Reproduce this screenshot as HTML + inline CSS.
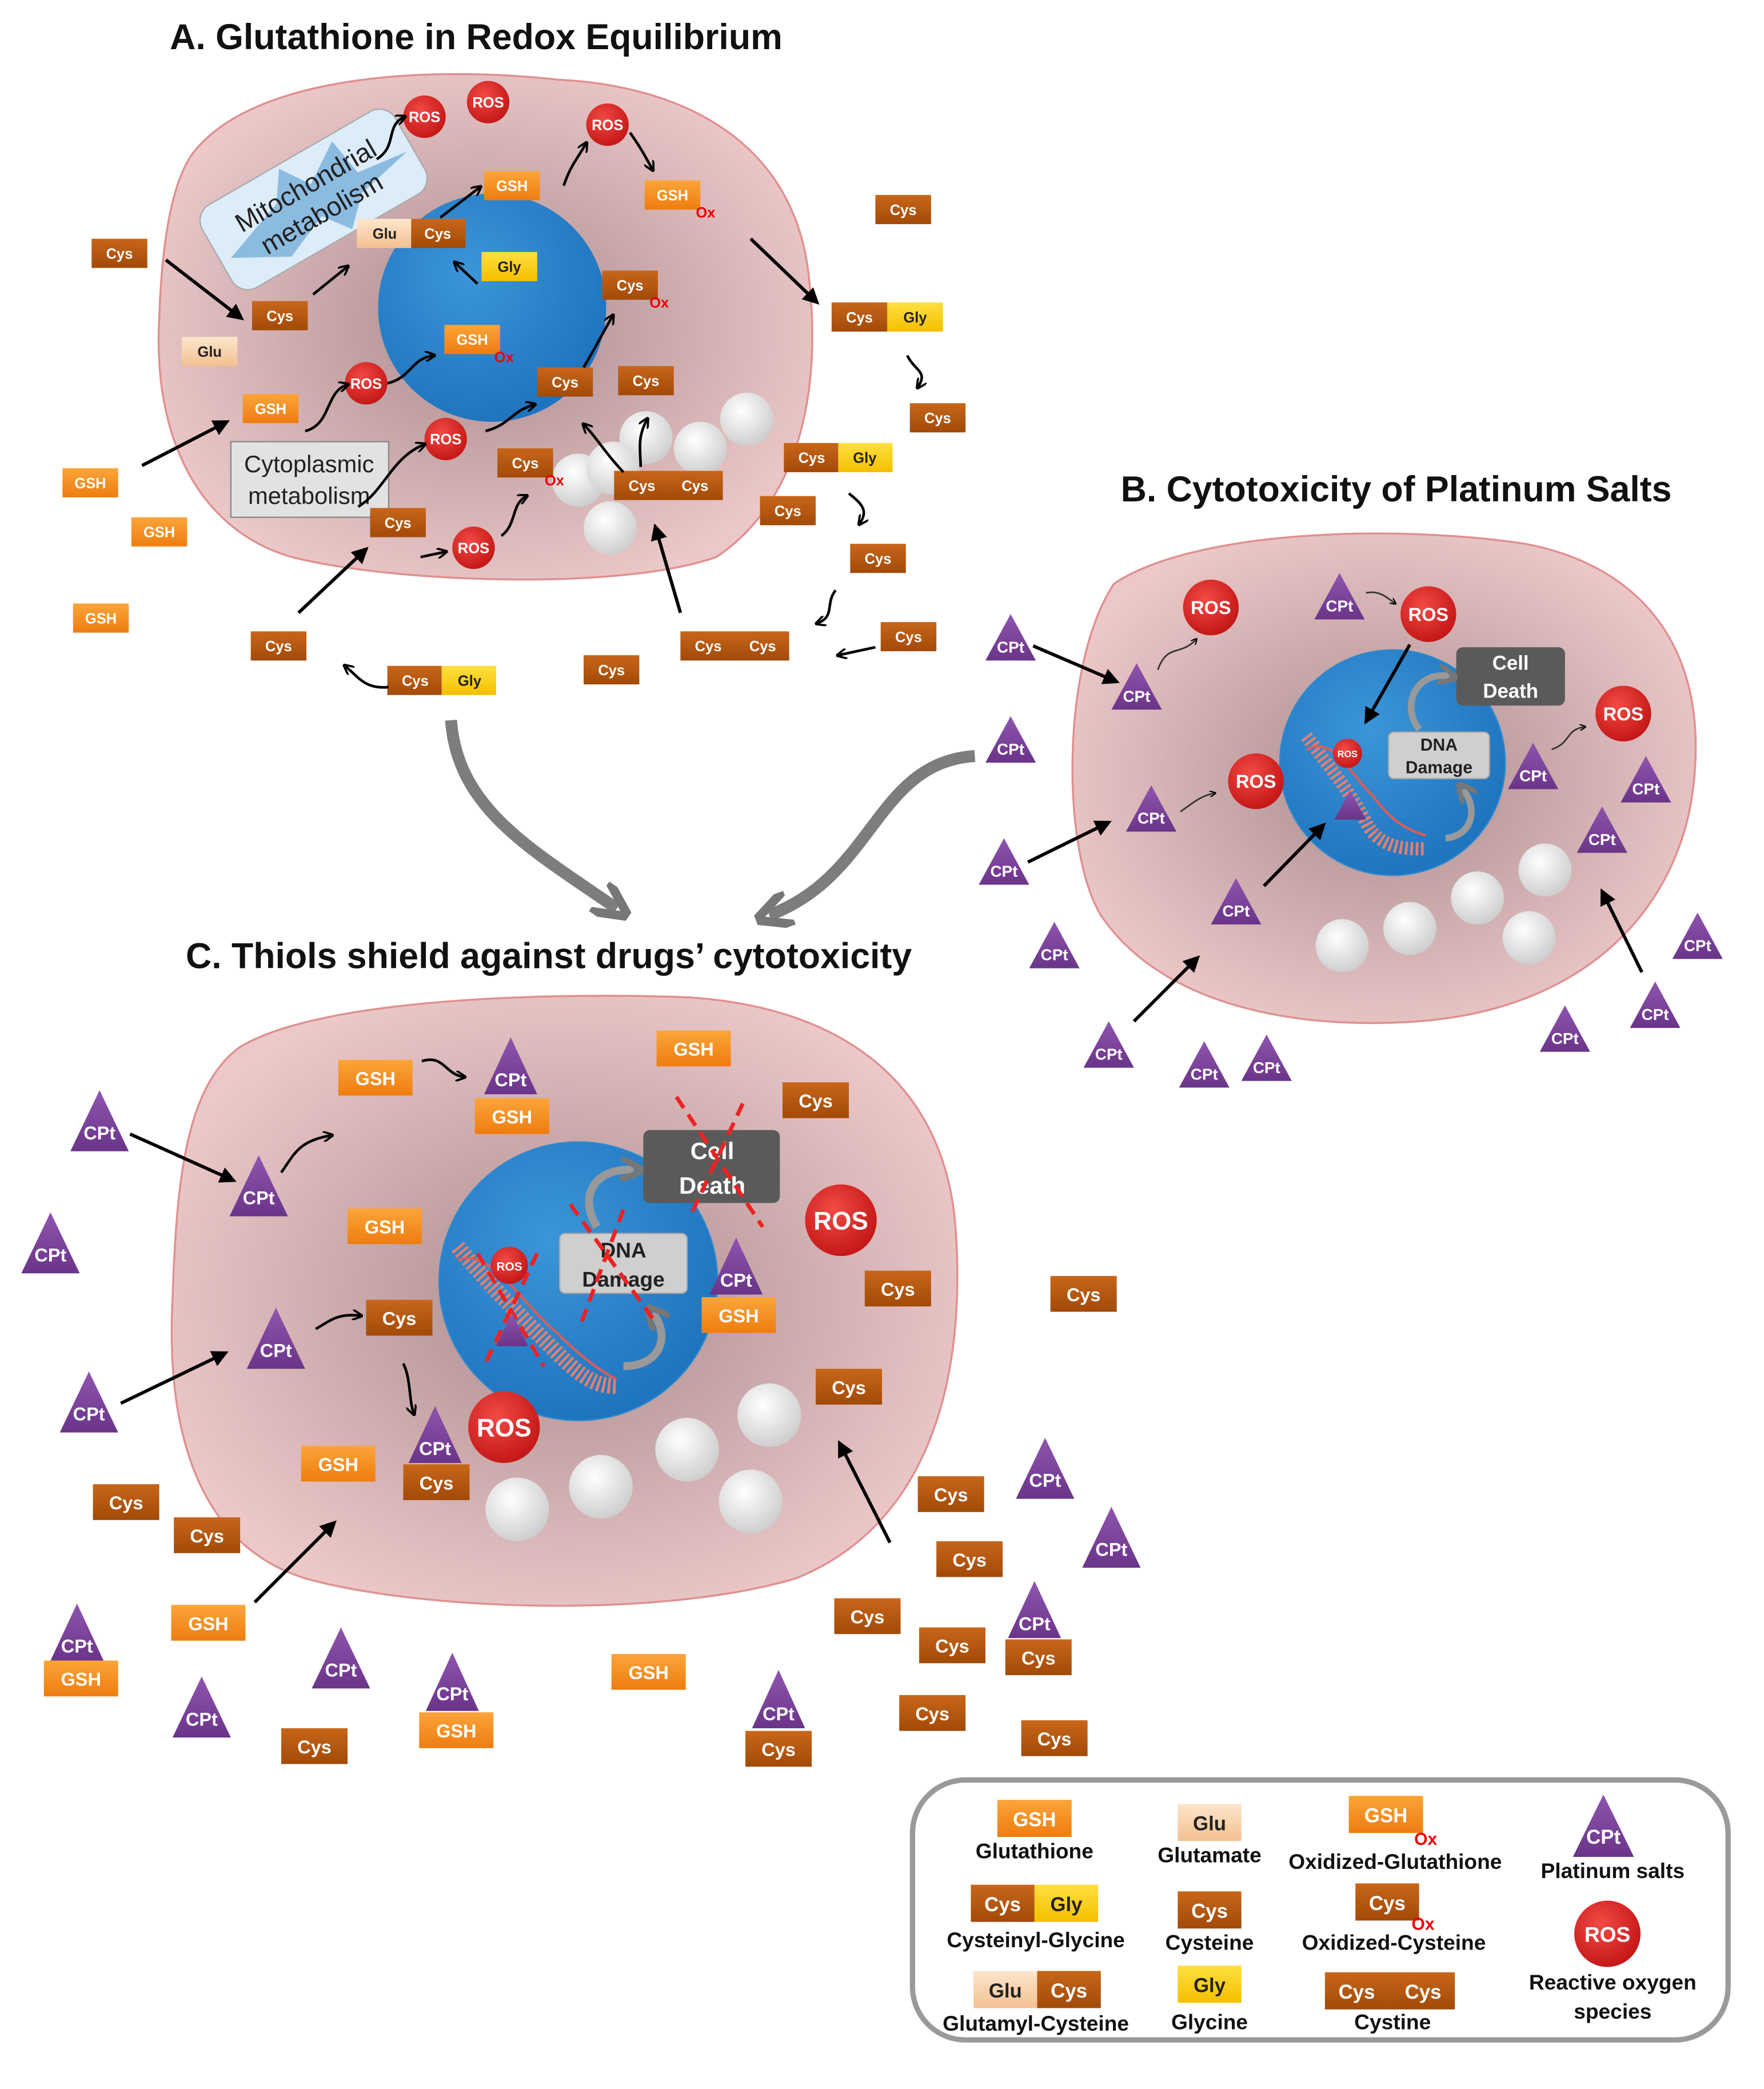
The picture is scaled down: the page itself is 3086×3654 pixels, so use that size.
<!DOCTYPE html>
<html><head><meta charset="utf-8"><style>
html,body{margin:0;padding:0;background:#fff}
svg{display:block}
text{font-family:"Liberation Sans",sans-serif;font-weight:bold;text-anchor:middle}
.w{fill:#fff}.k{fill:#222}
.a{font-size:11px}.c{font-size:14px}.l{font-size:15px}
.ttl{font-size:27px;text-anchor:start;fill:#111}
.lab{font-size:16px;fill:#111}
.ox{fill:#e00;font-size:11px}
.ln{stroke:#000;stroke-width:2.5;fill:none}
.sq{stroke:#000;stroke-width:2;fill:none}
</style></head><body>
<svg width="3086" height="3654" viewBox="0 0 1330 1575" xmlns="http://www.w3.org/2000/svg">
<defs>
<radialGradient id="cell" cx="50%" cy="50%" r="55%"><stop offset="0" stop-color="#a88a8c"/><stop offset="0.6" stop-color="#d2b0b2"/><stop offset="1" stop-color="#ecc8c8"/></radialGradient>
<radialGradient id="nuc" cx="40%" cy="35%" r="70%"><stop offset="0" stop-color="#3c95d8"/><stop offset="1" stop-color="#1d72bd"/></radialGradient>
<radialGradient id="ros" cx="40%" cy="35%" r="65%"><stop offset="0" stop-color="#f24a45"/><stop offset="1" stop-color="#c51818"/></radialGradient>
<radialGradient id="sph" cx="40%" cy="35%" r="65%"><stop offset="0" stop-color="#fff"/><stop offset="1" stop-color="#cfcfcf"/></radialGradient>
<linearGradient id="cys" x1="0" y1="0" x2="0" y2="1"><stop offset="0" stop-color="#c8661a"/><stop offset="1" stop-color="#a24a08"/></linearGradient>
<linearGradient id="gsh" x1="0" y1="0" x2="0" y2="1"><stop offset="0" stop-color="#fba53a"/><stop offset="1" stop-color="#ee7d10"/></linearGradient>
<linearGradient id="gly" x1="0" y1="0" x2="0" y2="1"><stop offset="0" stop-color="#ffe040"/><stop offset="1" stop-color="#f4bf00"/></linearGradient>
<linearGradient id="glu" x1="0" y1="0" x2="0" y2="1"><stop offset="0" stop-color="#fde6cc"/><stop offset="1" stop-color="#f3c091"/></linearGradient>
<linearGradient id="cpt" x1="0" y1="0" x2="0" y2="1"><stop offset="0" stop-color="#8f55b0"/><stop offset="1" stop-color="#6a3488"/></linearGradient>
<marker id="ah" viewBox="0 0 10 10" refX="8" refY="5" markerWidth="5" markerHeight="5" orient="auto"><path d="M0,0L10,5L0,10z" fill="#000"/></marker>
<marker id="as" viewBox="0 0 10 10" refX="8" refY="5" markerWidth="4" markerHeight="4" orient="auto"><path d="M0,0L10,5L0,10" fill="none" stroke="#000" stroke-width="2"/></marker>
<marker id="ag" viewBox="0 0 10 10" refX="6" refY="5" markerWidth="3" markerHeight="3" orient="auto"><path d="M0,0L10,5L0,10" fill="none" stroke="#777" stroke-width="2.5"/></marker>
</defs>

<!-- Titles -->
<text x="128" y="37" class="ttl">A. Glutathione in Redox Equilibrium</text>
<text x="845" y="378" class="ttl">B. Cytotoxicity of Platinum Salts</text>
<text x="140" y="730" class="ttl">C. Thiols shield against drugs’ cytotoxicity</text>

<!-- ============ CELL A ============ -->
<path d="M150,110 C200,55 330,50 420,60 C520,65 600,110 610,210 C620,300 600,380 540,420 C470,445 300,440 220,420 C150,400 115,330 120,240 C122,180 130,130 150,110Z" fill="url(#cell)" stroke="#e09090" stroke-width="1.5"/>
<circle cx="371" cy="232" r="86" fill="url(#nuc)"/>
<g transform="rotate(-30 235 150)"><rect x="152" y="115" width="168" height="72" rx="14" fill="#dcecf8" stroke="#aaa"/>
<path d="M160,158 L210,140 L225,118 L240,140 L270,120 L275,150 L315,155 L270,165 L250,185 L235,165 L200,180Z" fill="#8cbbe0"/>
<text x="236" y="146" style="font-size:20px;font-weight:normal" class="k">Mitochondrial</text>
<text x="236" y="170" style="font-size:20px;font-weight:normal" class="k">metabolism</text></g>
<rect x="174" y="333" width="119" height="57" fill="#e2e2e2" stroke="#888"/>
<text x="233" y="356" style="font-size:18px;font-weight:normal" class="k">Cytoplasmic</text>
<text x="233" y="380" style="font-size:18px;font-weight:normal" class="k">metabolism</text>

<!-- spheres A -->
<g fill="url(#sph)"><circle cx="563" cy="316" r="20"/><circle cx="528" cy="338" r="20"/><circle cx="487" cy="330" r="20"/><circle cx="436" cy="362" r="20"/><circle cx="462" cy="353" r="20"/><circle cx="460" cy="398" r="20"/></g>

<!-- boxes A -->
<g class="a">
<rect x="69" y="180" width="42" height="22" fill="url(#cys)"/><text x="90" y="195" class="w">Cys</text>
<rect x="190" y="227" width="42" height="22" fill="url(#cys)"/><text x="211" y="242" class="w">Cys</text>
<rect x="137" y="254" width="42" height="22" fill="url(#glu)"/><text x="158" y="269" class="k">Glu</text>
<rect x="183" y="297" width="42" height="22" fill="url(#gsh)"/><text x="204" y="312" class="w">GSH</text>
<rect x="47" y="353" width="42" height="22" fill="url(#gsh)"/><text x="68" y="368" class="w">GSH</text>
<rect x="99" y="390" width="42" height="22" fill="url(#gsh)"/><text x="120" y="405" class="w">GSH</text>
<rect x="55" y="455" width="42" height="22" fill="url(#gsh)"/><text x="76" y="470" class="w">GSH</text>
<rect x="269" y="165" width="41" height="22" fill="url(#glu)"/><text x="290" y="180" class="k">Glu</text>
<rect x="310" y="165" width="41" height="22" fill="url(#cys)"/><text x="330" y="180" class="w">Cys</text>
<rect x="365" y="129" width="42" height="22" fill="url(#gsh)"/><text x="386" y="144" class="w">GSH</text>
<rect x="363" y="190" width="42" height="22" fill="url(#gly)"/><text x="384" y="205" class="k">Gly</text>
<rect x="335" y="245" width="42" height="22" fill="url(#gsh)"/><text x="356" y="260" class="w">GSH</text><text x="380" y="273" class="ox">Ox</text>
<rect x="454" y="204" width="42" height="22" fill="url(#cys)"/><text x="475" y="219" class="w">Cys</text><text x="497" y="232" class="ox">Ox</text>
<rect x="486" y="136" width="42" height="22" fill="url(#gsh)"/><text x="507" y="151" class="w">GSH</text><text x="532" y="164" class="ox">Ox</text>
<rect x="405" y="277" width="42" height="22" fill="url(#cys)"/><text x="426" y="292" class="w">Cys</text>
<rect x="466" y="276" width="42" height="22" fill="url(#cys)"/><text x="487" y="291" class="w">Cys</text>
<rect x="375" y="338" width="42" height="22" fill="url(#cys)"/><text x="396" y="353" class="w">Cys</text><text x="418" y="366" class="ox">Ox</text>
<rect x="279" y="383" width="42" height="22" fill="url(#cys)"/><text x="300" y="398" class="w">Cys</text>
<rect x="463" y="355" width="41" height="22" fill="url(#cys)"/><text x="484" y="370" class="w">Cys</text>
<rect x="504" y="355" width="41" height="22" fill="url(#cys)"/><text x="524" y="370" class="w">Cys</text>
<rect x="660" y="147" width="42" height="22" fill="url(#cys)"/><text x="681" y="162" class="w">Cys</text>
<rect x="627" y="228" width="42" height="22" fill="url(#cys)"/><text x="648" y="243" class="w">Cys</text>
<rect x="669" y="228" width="42" height="22" fill="url(#gly)"/><text x="690" y="243" class="k">Gly</text>
<rect x="686" y="304" width="42" height="22" fill="url(#cys)"/><text x="707" y="319" class="w">Cys</text>
<rect x="591" y="334" width="41" height="22" fill="url(#cys)"/><text x="612" y="349" class="w">Cys</text>
<rect x="632" y="334" width="41" height="22" fill="url(#gly)"/><text x="652" y="349" class="k">Gly</text>
<rect x="573" y="374" width="42" height="22" fill="url(#cys)"/><text x="594" y="389" class="w">Cys</text>
<rect x="641" y="410" width="42" height="22" fill="url(#cys)"/><text x="662" y="425" class="w">Cys</text>
<rect x="664" y="469" width="42" height="22" fill="url(#cys)"/><text x="685" y="484" class="w">Cys</text>
<rect x="513" y="476" width="41" height="22" fill="url(#cys)"/><text x="534" y="491" class="w">Cys</text>
<rect x="554" y="476" width="41" height="22" fill="url(#cys)"/><text x="575" y="491" class="w">Cys</text>
<rect x="440" y="494" width="42" height="22" fill="url(#cys)"/><text x="461" y="509" class="w">Cys</text>
<rect x="189" y="476" width="42" height="22" fill="url(#cys)"/><text x="210" y="491" class="w">Cys</text>
<rect x="292" y="502" width="41" height="22" fill="url(#cys)"/><text x="313" y="517" class="w">Cys</text>
<rect x="333" y="502" width="41" height="22" fill="url(#gly)"/><text x="354" y="517" class="k">Gly</text>
</g>
<!-- ROS A -->
<g><circle cx="320" cy="88" r="16" fill="url(#ros)"/><circle cx="368" cy="77" r="16" fill="url(#ros)"/><circle cx="458" cy="94" r="16" fill="url(#ros)"/><circle cx="276" cy="289" r="16" fill="url(#ros)"/><circle cx="336" cy="331" r="16" fill="url(#ros)"/><circle cx="357" cy="413" r="16" fill="url(#ros)"/></g>
<g class="a w"><text x="320" y="92" class="w">ROS</text><text x="368" y="81" class="w">ROS</text><text x="458" y="98" class="w">ROS</text><text x="276" y="293" class="w">ROS</text><text x="336" y="335" class="w">ROS</text><text x="357" y="417" class="w">ROS</text></g>
<!-- arrows A -->
<g class="ln" marker-end="url(#ah)">
<line x1="125" y1="196" x2="182" y2="240"/><line x1="107" y1="351" x2="171" y2="318"/><line x1="225" y1="462" x2="276" y2="414"/>
<line x1="513" y1="462" x2="494" y2="397"/><line x1="566" y1="180" x2="616" y2="228"/>
</g>
<g class="sq" marker-end="url(#as)">
<path d="M236,222 L262,201"/><path d="M332,164 L362,141"/><path d="M360,214 L343,198"/>
<path d="M284,120 C300,110 290,95 305,88"/><path d="M425,140 C430,125 435,120 442,108"/><path d="M475,100 C482,110 485,115 492,128"/>
<path d="M230,325 C250,320 245,295 262,290"/><path d="M292,289 C310,285 310,270 327,268"/><path d="M270,382 C290,370 295,345 320,335"/>
<path d="M366,325 C385,320 385,310 403,305"/><path d="M440,277 C450,260 455,250 462,238"/><path d="M317,420 L336,416"/>
<path d="M378,404 C390,395 385,380 397,374"/><path d="M470,356 C455,340 450,330 440,320"/><path d="M483,352 C483,340 480,330 488,316"/>
<path d="M684,268 C690,280 700,280 692,292"/><path d="M640,372 C650,380 655,385 648,395"/><path d="M630,445 C622,455 630,465 616,470"/><path d="M660,488 L632,494"/><path d="M293,518 C275,520 270,510 260,502"/>
</g>
<!-- big gray arrows -->
<path d="M340,543 C345,610 400,640 465,685" stroke="#7d7d7d" stroke-width="9" fill="none" marker-end="url(#ag)"/>
<path d="M735,570 C660,575 660,660 580,690" stroke="#7d7d7d" stroke-width="9" fill="none" marker-end="url(#ag)"/>

<!-- ============ CELL B ============ -->
<path d="M840,440 C900,400 1050,395 1150,410 C1230,425 1285,480 1278,580 C1272,680 1200,760 1070,770 C960,778 870,750 830,690 C800,640 800,500 840,440Z" fill="url(#cell)" stroke="#e09090" stroke-width="1.5"/>
<circle cx="1050" cy="575" r="85" fill="url(#nuc)" stroke="#2b8ad0"/>
<path d="M985,555 C1000,575 1020,600 1030,620 C1040,640 1060,640 1075,640" stroke="#e08070" stroke-width="10" fill="none" stroke-dasharray="2 2"/>
<path d="M985,565 C1005,555 1015,580 1035,600 C1050,620 1060,625 1075,630" stroke="#d06060" stroke-width="2" fill="none"/>
<rect x="1098" y="488" width="82" height="44" rx="5" fill="#5a5a5a"/><text x="1139" y="505" class="w" style="font-size:15px">Cell</text><text x="1139" y="526" class="w" style="font-size:15px">Death</text>
<rect x="1047" y="552" width="76" height="35" rx="4" fill="#cfcfcf" stroke="#aaa"/><text x="1085" y="566" class="k" style="font-size:13px">DNA</text><text x="1085" y="583" class="k" style="font-size:13px">Damage</text>
<path d="M1070,550 C1055,530 1070,505 1093,510" stroke="#999" stroke-width="5" fill="none" marker-end="url(#ag)"/>
<path d="M1090,632 C1110,630 1115,610 1103,595" stroke="#999" stroke-width="5" fill="none" marker-end="url(#ag)"/>
<g fill="url(#sph)"><circle cx="1165" cy="656" r="20"/><circle cx="1114" cy="677" r="20"/><circle cx="1063" cy="700" r="20"/><circle cx="1012" cy="713" r="20"/><circle cx="1153" cy="707" r="20"/></g>
<g><circle cx="913" cy="458" r="21" fill="url(#ros)"/><circle cx="1077" cy="463" r="21" fill="url(#ros)"/><circle cx="1224" cy="538" r="21" fill="url(#ros)"/><circle cx="947" cy="589" r="21" fill="url(#ros)"/><circle cx="1016" cy="568" r="11" fill="url(#ros)"/></g>
<g style="font-size:14px"><text x="913" y="463" class="w">ROS</text><text x="1077" y="468" class="w">ROS</text><text x="1224" y="543" class="w">ROS</text><text x="947" y="594" class="w">ROS</text><text x="1016" y="571" class="w" style="font-size:7px">ROS</text></g>
<g fill="url(#cpt)">
<path d="M762,463 L781,498 L743,498Z"/><path d="M857,500 L876,535 L838,535Z"/><path d="M1010,432 L1029,467 L991,467Z"/><path d="M762,540 L781,575 L743,575Z"/><path d="M868,592 L887,627 L849,627Z"/><path d="M757,632 L776,667 L738,667Z"/><path d="M1156,560 L1175,595 L1137,595Z"/><path d="M1241,570 L1260,605 L1222,605Z"/><path d="M1208,608 L1227,643 L1189,643Z"/><path d="M932,662 L951,697 L913,697Z"/><path d="M795,695 L814,730 L776,730Z"/><path d="M1280,688 L1299,723 L1261,723Z"/><path d="M836,770 L855,805 L817,805Z"/><path d="M908,785 L927,820 L889,820Z"/><path d="M955,780 L974,815 L936,815Z"/><path d="M1180,758 L1199,793 L1161,793Z"/><path d="M1248,740 L1267,775 L1229,775Z"/><path d="M1018,596 L1030,618 L1006,618Z"/>
</g>
<g style="font-size:12px" class="w">
<text x="762" y="492" class="w">CPt</text><text x="857" y="529" class="w">CPt</text><text x="1010" y="461" class="w">CPt</text><text x="762" y="569" class="w">CPt</text><text x="868" y="621" class="w">CPt</text><text x="757" y="661" class="w">CPt</text><text x="1156" y="589" class="w">CPt</text><text x="1241" y="599" class="w">CPt</text><text x="1208" y="637" class="w">CPt</text><text x="932" y="691" class="w">CPt</text><text x="795" y="724" class="w">CPt</text><text x="1280" y="717" class="w">CPt</text><text x="836" y="799" class="w">CPt</text><text x="908" y="814" class="w">CPt</text><text x="955" y="809" class="w">CPt</text><text x="1180" y="787" class="w">CPt</text><text x="1248" y="769" class="w">CPt</text>
</g>
<g class="ln" marker-end="url(#ah)">
<line x1="779" y1="487" x2="842" y2="514"/><line x1="775" y1="650" x2="836" y2="620"/><line x1="855" y1="770" x2="903" y2="722"/><line x1="1238" y1="733" x2="1208" y2="672"/><line x1="953" y1="668" x2="998" y2="622"/><line x1="1063" y1="486" x2="1030" y2="544"/>
</g>
<g stroke="#333" stroke-width="1.2" fill="none" marker-end="url(#as)"><path d="M873,505 C880,485 890,495 902,482"/><path d="M890,612 C900,605 905,600 916,598"/><path d="M1030,447 C1040,445 1045,450 1052,455"/><path d="M1170,565 C1185,560 1180,550 1195,548"/></g>

<!-- ============ CELL C ============ -->
<path d="M180,790 C240,752 420,748 520,752 C640,760 710,820 720,920 C730,1040 700,1150 600,1190 C500,1220 320,1215 230,1190 C150,1165 125,1080 130,980 C133,890 140,820 180,790Z" fill="url(#cell)" stroke="#e09090" stroke-width="1.5"/>
<circle cx="436" cy="966" r="105" fill="url(#nuc)" stroke="#2b8ad0"/>
<path d="M345,940 C370,970 400,1000 420,1020 C440,1040 450,1045 465,1045" stroke="#e08070" stroke-width="12" fill="none" stroke-dasharray="2 2"/>
<path d="M345,950 C370,940 395,985 420,1005 C440,1025 455,1035 465,1040" stroke="#d06060" stroke-width="2" fill="none"/>
<rect x="485" y="852" width="103" height="55" rx="5" fill="#5a5a5a"/><text x="537" y="874" class="w" style="font-size:18px">Cell</text><text x="537" y="900" class="w" style="font-size:18px">Death</text>
<rect x="422" y="930" width="96" height="45" rx="4" fill="#cfcfcf" stroke="#aaa"/><text x="470" y="948" class="k" style="font-size:16px">DNA</text><text x="470" y="970" class="k" style="font-size:16px">Damage</text>
<path d="M450,925 C435,900 450,880 478,882" stroke="#999" stroke-width="6" fill="none" marker-end="url(#ag)"/>
<path d="M470,1030 C500,1030 505,1005 492,990" stroke="#999" stroke-width="6" fill="none" marker-end="url(#ag)"/>
<g stroke="#e22" stroke-width="3" stroke-dasharray="10 6"><line x1="510" y1="827" x2="575" y2="925"/><line x1="560" y1="832" x2="520" y2="918"/><line x1="430" y1="908" x2="495" y2="998"/><line x1="470" y1="912" x2="438" y2="998"/><line x1="360" y1="945" x2="410" y2="1030"/><line x1="405" y1="945" x2="365" y2="1030"/></g>
<g fill="url(#sph)"><circle cx="390" cy="1138" r="24"/><circle cx="453" cy="1121" r="24"/><circle cx="518" cy="1093" r="24"/><circle cx="580" cy="1067" r="24"/><circle cx="566" cy="1132" r="24"/></g>
<g class="c">
<rect x="255" y="799" width="56" height="27" fill="url(#gsh)"/><text x="283" y="818" class="w">GSH</text>
<rect x="495" y="777" width="56" height="27" fill="url(#gsh)"/><text x="523" y="796" class="w">GSH</text>
<rect x="358" y="828" width="56" height="27" fill="url(#gsh)"/><text x="386" y="847" class="w">GSH</text>
<rect x="262" y="911" width="56" height="27" fill="url(#gsh)"/><text x="290" y="930" class="w">GSH</text>
<rect x="227" y="1090" width="56" height="27" fill="url(#gsh)"/><text x="255" y="1109" class="w">GSH</text>
<rect x="129" y="1210" width="56" height="27" fill="url(#gsh)"/><text x="157" y="1229" class="w">GSH</text>
<rect x="461" y="1247" width="56" height="27" fill="url(#gsh)"/><text x="489" y="1266" class="w">GSH</text>
<rect x="529" y="978" width="56" height="27" fill="url(#gsh)"/><text x="557" y="997" class="w">GSH</text>
<rect x="33" y="1252" width="56" height="27" fill="url(#gsh)"/><text x="61" y="1271" class="w">GSH</text>
<rect x="316" y="1291" width="56" height="27" fill="url(#gsh)"/><text x="344" y="1310" class="w">GSH</text>
<rect x="590" y="816" width="50" height="27" fill="url(#cys)"/><text x="615" y="835" class="w">Cys</text>
<rect x="652" y="958" width="50" height="27" fill="url(#cys)"/><text x="677" y="977" class="w">Cys</text>
<rect x="792" y="962" width="50" height="27" fill="url(#cys)"/><text x="817" y="981" class="w">Cys</text>
<rect x="276" y="980" width="50" height="27" fill="url(#cys)"/><text x="301" y="999" class="w">Cys</text>
<rect x="615" y="1032" width="50" height="27" fill="url(#cys)"/><text x="640" y="1051" class="w">Cys</text>
<rect x="70" y="1119" width="50" height="27" fill="url(#cys)"/><text x="95" y="1138" class="w">Cys</text>
<rect x="131" y="1144" width="50" height="27" fill="url(#cys)"/><text x="156" y="1163" class="w">Cys</text>
<rect x="692" y="1113" width="50" height="27" fill="url(#cys)"/><text x="717" y="1132" class="w">Cys</text>
<rect x="706" y="1162" width="50" height="27" fill="url(#cys)"/><text x="731" y="1181" class="w">Cys</text>
<rect x="629" y="1205" width="50" height="27" fill="url(#cys)"/><text x="654" y="1224" class="w">Cys</text>
<rect x="693" y="1227" width="50" height="27" fill="url(#cys)"/><text x="718" y="1246" class="w">Cys</text>
<rect x="678" y="1278" width="50" height="27" fill="url(#cys)"/><text x="703" y="1297" class="w">Cys</text>
<rect x="770" y="1297" width="50" height="27" fill="url(#cys)"/><text x="795" y="1316" class="w">Cys</text>
<rect x="212" y="1303" width="50" height="27" fill="url(#cys)"/><text x="237" y="1322" class="w">Cys</text>
<rect x="304" y="1104" width="50" height="27" fill="url(#cys)"/><text x="329" y="1123" class="w">Cys</text>
<rect x="758" y="1236" width="50" height="27" fill="url(#cys)"/><text x="783" y="1255" class="w">Cys</text>
<rect x="562" y="1305" width="50" height="27" fill="url(#cys)"/><text x="587" y="1324" class="w">Cys</text>
</g>
<g><circle cx="634" cy="920" r="27" fill="url(#ros)"/><circle cx="380" cy="1076" r="27" fill="url(#ros)"/><circle cx="384" cy="954" r="14" fill="url(#ros)"/></g>
<text x="634" y="927" class="w" style="font-size:19px">ROS</text><text x="380" y="1083" class="w" style="font-size:19px">ROS</text><text x="384" y="958" class="w" style="font-size:9px">ROS</text>
<g fill="url(#cpt)">
<path d="M75,822 L97,868 L53,868Z"/><path d="M195,871 L217,917 L173,917Z"/><path d="M385,782 L405,825 L365,825Z"/><path d="M38,914 L60,960 L16,960Z"/><path d="M208,986 L230,1032 L186,1032Z"/><path d="M67,1034 L89,1080 L45,1080Z"/><path d="M555,933 L575,976 L535,976Z"/><path d="M328,1060 L348,1103 L308,1103Z"/><path d="M788,1084 L810,1130 L766,1130Z"/><path d="M838,1136 L860,1182 L816,1182Z"/><path d="M780,1192 L800,1235 L760,1235Z"/><path d="M58,1209 L78,1252 L38,1252Z"/><path d="M257,1227 L279,1273 L235,1273Z"/><path d="M152,1264 L174,1310 L130,1310Z"/><path d="M341,1246 L361,1290 L321,1290Z"/><path d="M587,1259 L607,1303 L567,1303Z"/><path d="M386,990 L398,1015 L374,1015Z"/>
</g>
<g style="font-size:14px">
<text x="75" y="859" class="w">CPt</text><text x="195" y="908" class="w">CPt</text><text x="385" y="819" class="w">CPt</text><text x="38" y="951" class="w">CPt</text><text x="208" y="1023" class="w">CPt</text><text x="67" y="1071" class="w">CPt</text><text x="555" y="970" class="w">CPt</text><text x="328" y="1097" class="w">CPt</text><text x="788" y="1121" class="w">CPt</text><text x="838" y="1173" class="w">CPt</text><text x="780" y="1229" class="w">CPt</text><text x="58" y="1246" class="w">CPt</text><text x="257" y="1264" class="w">CPt</text><text x="152" y="1301" class="w">CPt</text><text x="341" y="1282" class="w">CPt</text><text x="587" y="1297" class="w">CPt</text>
</g>
<g class="ln" marker-end="url(#ah)">
<line x1="98" y1="855" x2="176" y2="890"/><line x1="91" y1="1058" x2="170" y2="1020"/><line x1="192" y1="1208" x2="252" y2="1148"/><line x1="671" y1="1163" x2="633" y2="1088"/>
</g>
<g class="sq" marker-end="url(#as)"><path d="M212,884 C222,870 225,860 250,856"/><path d="M318,800 C335,795 335,810 350,812"/><path d="M238,1002 C250,995 255,990 272,992"/><path d="M304,1028 C310,1040 308,1055 312,1066"/></g>

<!-- ============ LEGEND ============ -->
<rect x="688" y="1342" width="615" height="196" rx="40" fill="#fff" stroke="#9a9a9a" stroke-width="4"/>
<g class="l">
<rect x="752" y="1357" width="56" height="28" fill="url(#gsh)"/><text x="780" y="1377" class="w">GSH</text>
<rect x="888" y="1360" width="48" height="28" fill="url(#glu)"/><text x="912" y="1380" class="k">Glu</text>
<rect x="1017" y="1354" width="56" height="28" fill="url(#gsh)"/><text x="1045" y="1374" class="w">GSH</text><text x="1075" y="1391" class="ox" style="font-size:13px">Ox</text>
<rect x="732" y="1421" width="48" height="28" fill="url(#cys)"/><text x="756" y="1441" class="w">Cys</text>
<rect x="780" y="1421" width="48" height="28" fill="url(#gly)"/><text x="804" y="1441" class="k">Gly</text>
<rect x="888" y="1426" width="48" height="28" fill="url(#cys)"/><text x="912" y="1446" class="w">Cys</text>
<rect x="1022" y="1420" width="48" height="28" fill="url(#cys)"/><text x="1046" y="1440" class="w">Cys</text><text x="1073" y="1455" class="ox" style="font-size:13px">Ox</text>
<rect x="734" y="1486" width="48" height="28" fill="url(#glu)"/><text x="758" y="1506" class="k">Glu</text>
<rect x="782" y="1486" width="48" height="28" fill="url(#cys)"/><text x="806" y="1506" class="w">Cys</text>
<rect x="888" y="1482" width="48" height="28" fill="url(#gly)"/><text x="912" y="1502" class="k">Gly</text>
<rect x="999" y="1487" width="49" height="28" fill="url(#cys)"/><text x="1023" y="1507" class="w">Cys</text>
<rect x="1048" y="1487" width="49" height="28" fill="url(#cys)"/><text x="1073" y="1507" class="w">Cys</text>
</g>
<path d="M1209,1353 L1232,1400 L1186,1400Z" fill="url(#cpt)"/><text x="1209" y="1390" class="w" style="font-size:15px">CPt</text>
<circle cx="1212" cy="1458" r="25" fill="url(#ros)"/><text x="1212" y="1464" class="w" style="font-size:16px">ROS</text>
<g class="lab">
<text x="780" y="1401">Glutathione</text><text x="912" y="1404">Glutamate</text><text x="1052" y="1409">Oxidized-Glutathione</text><text x="1216" y="1416">Platinum salts</text>
<text x="781" y="1468">Cysteinyl-Glycine</text><text x="912" y="1470">Cysteine</text><text x="1051" y="1470">Oxidized-Cysteine</text>
<text x="1216" y="1500">Reactive oxygen</text><text x="1216" y="1522">species</text>
<text x="781" y="1531">Glutamyl-Cysteine</text><text x="912" y="1530">Glycine</text><text x="1050" y="1530">Cystine</text>
</g>
</svg>
</body></html>
